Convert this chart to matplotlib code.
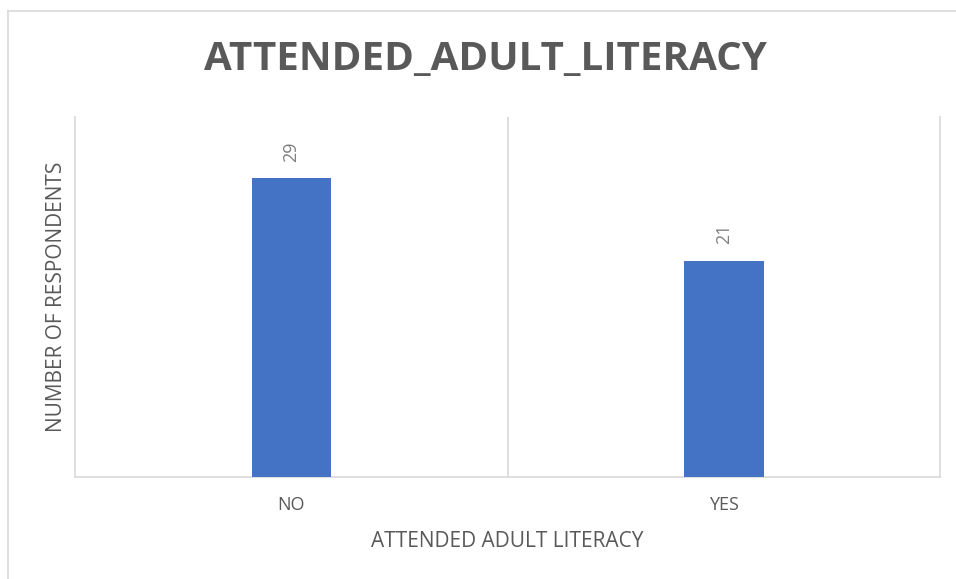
import matplotlib.pyplot as plt
from matplotlib.lines import Line2D

categories = ["NO", "YES"]
counts = [29, 21]

TITLE = "ATTENDED_ADULT_LITERACY"
X_LABEL = "ATTENDED ADULT LITERACY"
Y_LABEL = "NUMBER OF RESPONDENTS"

BAR_COLOR = "#4472C4"
TEXT_COLOR = "#595959"
GRID_COLOR = "#D9D9D9"

plt.rcParams["font.family"] = ["Open Sans", "DejaVu Sans"]

fig = plt.figure(figsize=(9.56, 5.79), dpi=100)
ax = fig.add_axes([0.0785, 0.1762, 0.905, 0.6222])

x = list(range(len(categories)))
ax.bar(x, counts, width=0.183, color=BAR_COLOR, zorder=3)
for xi, val in zip(x, counts):
    ax.annotate(str(val), (xi, val), xytext=(0, 12), textcoords="offset points",
                ha="center", va="bottom", rotation=90, fontsize=13, color="#7F7F7F")

ax.set_xlim(-0.5, len(categories) - 0.5)
ax.set_ylim(0, 35)
ax.axvline(0.5, color=GRID_COLOR, lw=1.2, zorder=1)

ax.spines["top"].set_visible(False)
for side in ["left", "right", "bottom"]:
    ax.spines[side].set_color(GRID_COLOR)
    ax.spines[side].set_linewidth(1.2)

ax.set_yticks([])
ax.set_xticks(x)
ax.set_xticklabels(categories, fontsize=13, color=TEXT_COLOR)
ax.tick_params(axis="x", length=0, pad=14)

ax.set_xlabel(X_LABEL, fontsize=15, color=TEXT_COLOR, labelpad=12)
ax.set_ylabel(Y_LABEL, fontsize=15, color=TEXT_COLOR, labelpad=6)

fig.text(0.508, 0.898, TITLE, ha="center", va="center", fontsize=29,
         fontweight="bold", color=TEXT_COLOR)

# outer chart border (only top and left edges fall inside the picture)
fig.add_artist(Line2D([8 / 956, 1], [1 - 11 / 579] * 2, color=GRID_COLOR, lw=1.2))
fig.add_artist(Line2D([8 / 956] * 2, [0, 1 - 11 / 579], color=GRID_COLOR, lw=1.2))

fig.savefig("out.png", dpi=100)
